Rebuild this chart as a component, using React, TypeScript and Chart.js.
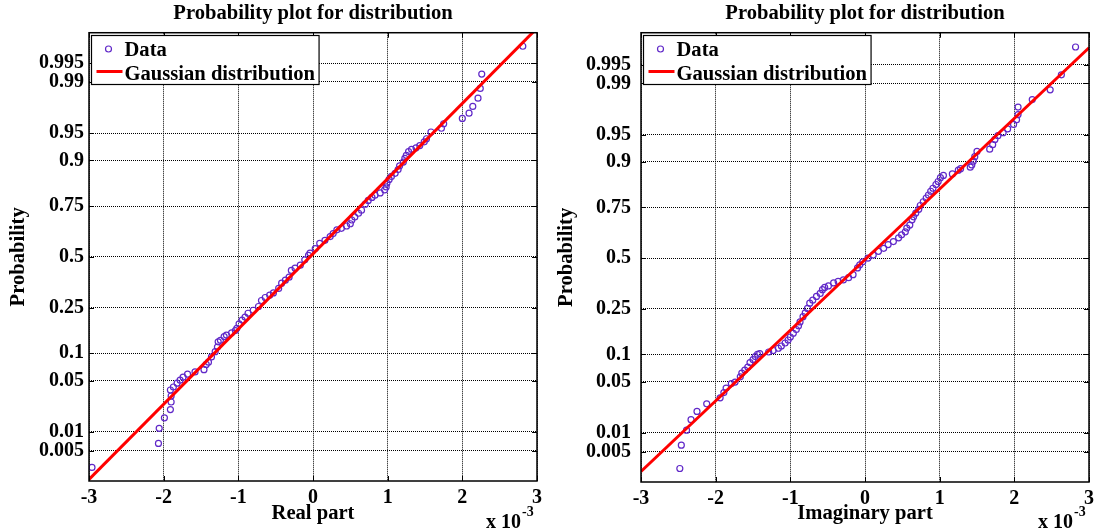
import React, { useEffect, useRef } from "react";
import { Chart, registerables } from "chart.js";

Chart.register(...registerables);

// ---- tick definitions ----
const probTickValues = [0.005, 0.01, 0.05, 0.1, 0.25, 0.5, 0.75, 0.9, 0.95, 0.99, 0.995];
const probTickLabels = ["0.005", "0.01", "0.05", "0.1", "0.25", "0.5", "0.75", "0.9", "0.95", "0.99", "0.995"];
const xTickValues = [-3, -2, -1, 0, 1, 2, 3];
const xTickLabels = ["-3", "-2", "-1", "0", "1", "2", "3"];

// ---- Real part: sorted values (x 10^-3) and their probit (normal quantile) positions ----
const realX = [-2.96, -2.07, -2.06, -1.99, -1.91, -1.90, -1.90, -1.91, -1.87, -1.82, -1.78, -1.74, -1.68, -1.58, -1.46, -1.43, -1.40, -1.36, -1.31, -1.28, -1.27, -1.24, -1.19, -1.16, -1.09, -1.04, -1.02, -0.99, -0.95, -0.91, -0.87, -0.80, -0.73, -0.69, -0.64, -0.58, -0.53, -0.46, -0.42, -0.37, -0.32, -0.29, -0.24, -0.17, -0.11, -0.06, -0.04, 0.03, 0.09, 0.16, 0.23, 0.27, 0.32, 0.38, 0.45, 0.50, 0.52, 0.56, 0.61, 0.65, 0.70, 0.74, 0.79, 0.83, 0.90, 0.96, 0.98, 0.99, 1.02, 1.05, 1.10, 1.14, 1.16, 1.21, 1.23, 1.25, 1.28, 1.32, 1.38, 1.43, 1.49, 1.52, 1.58, 1.72, 1.75, 2.00, 2.09, 2.14, 2.21, 2.24, 2.26, 2.81];
const realZ = [-2.80, -2.48, -2.28, -2.14, -2.03, -1.93, -1.85, -1.77, -1.73, -1.68, -1.64, -1.60, -1.56, -1.53, -1.50, -1.43, -1.40, -1.33, -1.26, -1.20, -1.13, -1.11, -1.06, -1.04, -1.01, -0.98, -0.95, -0.89, -0.84, -0.80, -0.75, -0.71, -0.66, -0.58, -0.54, -0.51, -0.48, -0.42, -0.35, -0.31, -0.27, -0.18, -0.15, -0.11, -0.04, 0.02, 0.05, 0.11, 0.18, 0.22, 0.27, 0.31, 0.36, 0.38, 0.41, 0.44, 0.49, 0.53, 0.58, 0.62, 0.70, 0.75, 0.79, 0.82, 0.85, 0.89, 0.93, 0.98, 1.03, 1.07, 1.11, 1.16, 1.21, 1.26, 1.31, 1.35, 1.40, 1.43, 1.45, 1.48, 1.53, 1.57, 1.66, 1.71, 1.77, 1.84, 1.91, 2.00, 2.11, 2.24, 2.43, 2.80];
const realFitX = [-3, 3];
const realFitZ = [-2.96, 3.04];

// ---- Imaginary part ----
const imagX = [-2.48, -2.46, -2.39, -2.33, -2.25, -2.12, -1.94, -1.89, -1.86, -1.79, -1.74, -1.67, -1.65, -1.61, -1.57, -1.54, -1.50, -1.47, -1.44, -1.41, -1.29, -1.23, -1.16, -1.12, -1.07, -1.03, -1.00, -0.96, -0.92, -0.89, -0.87, -0.83, -0.80, -0.77, -0.74, -0.70, -0.65, -0.60, -0.57, -0.54, -0.49, -0.42, -0.36, -0.29, -0.22, -0.16, -0.10, -0.07, -0.03, 0.04, 0.11, 0.18, 0.25, 0.31, 0.38, 0.45, 0.49, 0.54, 0.56, 0.60, 0.63, 0.65, 0.68, 0.72, 0.74, 0.78, 0.82, 0.85, 0.88, 0.91, 0.95, 0.98, 1.01, 1.05, 1.17, 1.25, 1.28, 1.41, 1.43, 1.45, 1.47, 1.50, 1.67, 1.71, 1.74, 1.78, 1.85, 1.91, 1.99, 2.03, 2.05, 2.05, 2.24, 2.48, 2.63, 2.82];
const imagZ = [-2.80, -2.49, -2.29, -2.15, -2.04, -1.94, -1.86, -1.79, -1.73, -1.67, -1.65, -1.58, -1.53, -1.49, -1.45, -1.39, -1.35, -1.31, -1.28, -1.27, -1.25, -1.23, -1.20, -1.17, -1.13, -1.09, -1.05, -1.00, -0.95, -0.90, -0.85, -0.78, -0.73, -0.67, -0.60, -0.56, -0.51, -0.47, -0.42, -0.39, -0.37, -0.33, -0.31, -0.29, -0.26, -0.22, -0.13, -0.09, -0.05, 0.00, 0.04, 0.09, 0.13, 0.18, 0.22, 0.27, 0.31, 0.35, 0.40, 0.44, 0.51, 0.55, 0.60, 0.65, 0.70, 0.75, 0.80, 0.84, 0.89, 0.93, 0.98, 1.02, 1.07, 1.10, 1.12, 1.17, 1.19, 1.21, 1.24, 1.29, 1.35, 1.42, 1.45, 1.51, 1.58, 1.63, 1.67, 1.72, 1.78, 1.84, 1.91, 2.01, 2.11, 2.24, 2.44, 2.81];
const imagFitX = [-3, 3];
const imagFitZ = [-2.84, 2.80];

const FONT = '"Liberation Serif", "Times New Roman", serif';
const MARKER = "rgb(96, 40, 200)";
const RED = "rgb(255, 0, 0)";

// inverse standard normal CDF (probability-axis transform)
function probit(p: number): number {
  const a = [-3.969683028665376e1, 2.209460984245205e2, -2.759285104469687e2, 1.38357751867269e2, -3.066479806614716e1, 2.506628277459239];
  const b = [-5.447609879822406e1, 1.615858368580409e2, -1.556989798598866e2, 6.680131188771972e1, -1.328068155288572e1];
  const c = [-7.784894002430293e-3, -3.223964580411365e-1, -2.400758277161838, -2.549732539343734, 4.374664141464968, 2.938163982698783];
  const d = [7.784695709041462e-3, 3.224671290700398e-1, 2.445134137142996, 3.754408661907416];
  const pl = 0.02425;
  if (p < pl) {
    const q = Math.sqrt(-2 * Math.log(p));
    return (((((c[0] * q + c[1]) * q + c[2]) * q + c[3]) * q + c[4]) * q + c[5]) / ((((d[0] * q + d[1]) * q + d[2]) * q + d[3]) * q + 1);
  }
  if (p <= 1 - pl) {
    const q = p - 0.5;
    const r = q * q;
    return ((((((a[0] * r + a[1]) * r + a[2]) * r + a[3]) * r + a[4]) * r + a[5]) * q) / (((((b[0] * r + b[1]) * r + b[2]) * r + b[3]) * r + b[4]) * r + 1);
  }
  const q = Math.sqrt(-2 * Math.log(1 - p));
  return -(((((c[0] * q + c[1]) * q + c[2]) * q + c[3]) * q + c[4]) * q + c[5]) / ((((d[0] * q + d[1]) * q + d[2]) * q + d[3]) * q + 1);
}

const framePlugin = {
  id: "frameBox",
  afterDraw(chart: any) {
    const { ctx, chartArea } = chart;
    const { left, right, top, bottom } = chartArea;
    const xs = chart.scales.x;
    const ys = chart.scales.y;
    ctx.save();
    ctx.strokeStyle = "#000";
    ctx.lineWidth = 1.5;
    ctx.setLineDash([]);
    ctx.strokeRect(left, top, right - left, bottom - top);
    ctx.lineWidth = 1;
    ctx.beginPath();
    xs.ticks.forEach((t: any) => {
      const px = Math.round(xs.getPixelForValue(t.value)) + 0.5;
      ctx.moveTo(px, bottom);
      ctx.lineTo(px, bottom - 5);
      ctx.moveTo(px, top);
      ctx.lineTo(px, top + 5);
    });
    ys.ticks.forEach((t: any) => {
      const py = Math.round(ys.getPixelForValue(t.value)) + 0.5;
      ctx.moveTo(left, py);
      ctx.lineTo(left + 5, py);
      ctx.moveTo(right, py);
      ctx.lineTo(right - 5, py);
    });
    ctx.stroke();
    ctx.restore();
  },
};

const legendBoxPlugin = {
  id: "legendBox",
  afterDraw(chart: any) {
    const { ctx, chartArea } = chart;
    const x0 = Math.round(chartArea.left) + 2.5;
    const y0 = Math.round(chartArea.top) + 2.5;
    const ds = chart.data.datasets;
    const pts = ds.find((d: any) => !d.showLine);
    const line = ds.find((d: any) => d.showLine);
    ctx.save();
    ctx.font = `bold 20.6px ${FONT}`;
    const w = Math.max(ctx.measureText(pts.label).width, ctx.measureText(line.label).width) + 37;
    const h = 49;
    ctx.fillStyle = "#fff";
    ctx.fillRect(x0, y0, w, h);
    ctx.strokeStyle = "#000";
    ctx.lineWidth = 1.2;
    ctx.strokeRect(x0, y0, w, h);
    // marker
    ctx.beginPath();
    ctx.strokeStyle = pts.borderColor;
    ctx.lineWidth = 1.2;
    ctx.arc(x0 + 17, y0 + 13.5, 3, 0, Math.PI * 2);
    ctx.stroke();
    // line sample
    ctx.beginPath();
    ctx.strokeStyle = line.borderColor;
    ctx.lineWidth = 3;
    ctx.moveTo(x0 + 5, y0 + 36);
    ctx.lineTo(x0 + 31, y0 + 36);
    ctx.stroke();
    ctx.fillStyle = "#000";
    ctx.textBaseline = "alphabetic";
    ctx.textAlign = "left";
    ctx.fillText(pts.label, x0 + 33, y0 + 20);
    ctx.fillText(line.label, x0 + 33, y0 + 44);
    ctx.restore();
  },
};

const exponentPlugin = {
  id: "exponentLabel",
  afterDraw(chart: any) {
    const { ctx, chartArea } = chart;
    const x = chartArea.right - 51;
    ctx.save();
    ctx.fillStyle = "#000";
    ctx.textAlign = "left";
    ctx.textBaseline = "alphabetic";
    ctx.font = `bold 20px ${FONT}`;
    const base = "x 10";
    ctx.fillText(base, x, 528);
    const bw = ctx.measureText(base).width;
    ctx.font = `bold 14px ${FONT}`;
    ctx.fillText("-3", x + bw + 1, 516);
    ctx.restore();
  },
};

function makeConfig(o: {
  xs: number[];
  zs: number[];
  fitX: number[];
  fitZ: number[];
  xTitle: string;
  yMin: number;
  yMax: number;
  xAxisH: number;
  yAxisW: number;
  padRight: number;
  yTickPad: number;
  yTitlePad: number;
}): any {
  const font = { family: FONT, size: 20, weight: "bold" as const };
  const bigFont = { family: FONT, size: 20.6, weight: "bold" as const };
  return {
    type: "scatter",
    data: {
      datasets: [
        {
          label: "Gaussian distribution",
          data: o.fitX.map((x, i) => ({ x, y: o.fitZ[i] })),
          showLine: true,
          borderColor: RED,
          backgroundColor: RED,
          borderWidth: 3,
          pointRadius: 0,
          order: 0,
        },
        {
          label: "Data",
          data: o.xs.map((x, i) => ({ x, y: o.zs[i] })),
          showLine: false,
          pointStyle: "circle",
          pointRadius: 3,
          pointBorderWidth: 1.2,
          borderColor: MARKER,
          backgroundColor: "rgba(0,0,0,0)",
          order: 1,
        },
      ],
    },
    options: {
      responsive: false,
      animation: false,
      devicePixelRatio: 1,
      layout: { padding: { left: 0, right: o.padRight, top: 0, bottom: 0 } },
      plugins: {
        legend: { display: false },
        tooltip: { enabled: false },
        title: {
          display: true,
          text: "Probability plot for distribution",
          color: "#000",
          font: bigFont,
          fullSize: false,
          padding: { top: 1, bottom: 7 },
        },
      },
      scales: {
        x: {
          type: "linear",
          min: -3,
          max: 3,
          afterBuildTicks: (s: any) => {
            s.ticks = xTickValues.map((v) => ({ value: v }));
          },
          afterFit: (s: any) => {
            s.height = o.xAxisH;
          },
          ticks: {
            callback: (_v: any, i: number) => xTickLabels[i],
            color: "#000",
            font,
            padding: 5,
            maxRotation: 0,
            autoSkip: false,
          },
          grid: { color: "#000", lineWidth: 1, drawTicks: false },
          border: { display: false, dash: [1, 1] },
          title: {
            display: true,
            text: o.xTitle,
            color: "#000",
            font: bigFont,
            padding: { top: 0, bottom: 6 },
          },
        },
        y: {
          type: "linear",
          min: o.yMin,
          max: o.yMax,
          afterBuildTicks: (s: any) => {
            s.ticks = probTickValues.map((p) => ({ value: probit(p) }));
          },
          afterFit: (s: any) => {
            s.width = o.yAxisW;
          },
          ticks: {
            callback: (_v: any, i: number) => probTickLabels[i],
            color: "#000",
            font,
            padding: o.yTickPad,
            autoSkip: false,
          },
          grid: { color: "#000", lineWidth: 1, drawTicks: false },
          border: { display: false, dash: [1, 1] },
          title: {
            display: true,
            text: "Probability",
            color: "#000",
            font: bigFont,
            padding: { top: o.yTitlePad, bottom: 0 },
          },
        },
      },
    },
    plugins: [framePlugin, legendBoxPlugin, exponentPlugin],
  };
}

export default function App() {
  const leftRef = useRef<HTMLCanvasElement>(null);
  const rightRef = useRef<HTMLCanvasElement>(null);

  useEffect(() => {
    const c1 = new Chart(
      leftRef.current as HTMLCanvasElement,
      makeConfig({
        xs: realX,
        zs: realZ,
        fitX: realFitX,
        fitZ: realFitZ,
        xTitle: "Real part",
        yMin: -2.98,
        yMax: 2.98,
        xAxisH: 51,
        yAxisW: 89,
        padRight: 14,
        yTickPad: 5,
        yTitlePad: 6,
      })
    );
    const c2 = new Chart(
      rightRef.current as HTMLCanvasElement,
      makeConfig({
        xs: imagX,
        zs: imagZ,
        fitX: imagFitX,
        fitZ: imagFitZ,
        xTitle: "Imaginary part",
        yMin: -2.98,
        yMax: 3.0,
        xAxisH: 50,
        yAxisW: 90,
        padRight: 12,
        yTickPad: 10,
        yTitlePad: 3,
      })
    );
    return () => {
      c1.destroy();
      c2.destroy();
    };
  }, []);

  return (
    <div style={{ position: "absolute", left: 0, top: 0, width: 1101, height: 532, background: "#fff" }}>
      <canvas
        ref={leftRef}
        width={551}
        height={532}
        style={{ position: "absolute", left: 0, top: 0, width: 551, height: 532, display: "block" }}
      />
      <canvas
        ref={rightRef}
        width={550}
        height={532}
        style={{ position: "absolute", left: 551, top: 0, width: 550, height: 532, display: "block" }}
      />
    </div>
  );
}
